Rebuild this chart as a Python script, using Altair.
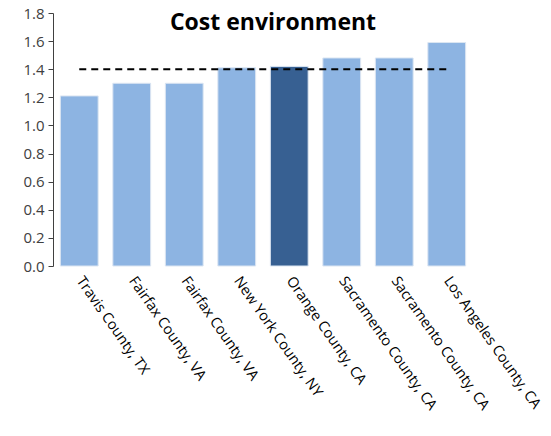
import altair as alt
import pandas as pd

counties = ["Travis County, TX", "Fairfax County, VA", "Fairfax County, VA ", "New York County, NY",
            "Orange County, CA", "Sacramento County, CA", "Sacramento County, CA ", "Los Angeles County, CA"]
values = [1.21, 1.30, 1.30, 1.41, 1.42, 1.48, 1.48, 1.59]
highlight = [False, False, False, False, True, False, False, False]
benchmark = 1.4
y_ticks = [0, 0.2, 0.4, 0.6, 0.8, 1.0, 1.2, 1.4, 1.6, 1.8]

df = pd.DataFrame({"county": counties, "value": values, "hl": highlight})
ref = pd.DataFrame({"county": counties, "value": [benchmark] * len(counties)})

FONT = "Open Sans"

x_axis = alt.Axis(labelAngle=55, labelAlign="left", labelBaseline="middle",
                  labelFontSize=14.5, labelColor="#000000", labelFont=FONT,
                  ticks=False, domain=False, labelPadding=12,
                  labelExpr="trim(datum.label)", labelLimit=300)
x_scale = alt.Scale(paddingInner=0.28, paddingOuter=0.14)
y_axis = alt.Axis(values=y_ticks, format=".1f", grid=False, labelFontSize=15,
                  labelColor="#404040", labelOverlap=False,
                  labelFont=FONT, tickColor="#404040", domainColor="#404040",
                  tickSize=5, labelPadding=4)
y_scale = alt.Scale(domain=[0, 1.8], nice=False)

bars = alt.Chart(df).mark_bar(stroke="#dce6f2", strokeWidth=1).encode(
    x=alt.X("county:N", sort=counties, title=None, scale=x_scale, axis=x_axis),
    y=alt.Y("value:Q", title=None, scale=y_scale, axis=y_axis),
    color=alt.Color("hl:N", scale=alt.Scale(domain=[False, True], range=["#8DB4E2", "#376092"]),
                    legend=None),
)

line = alt.Chart(ref).mark_line(color="#000000", strokeWidth=2, strokeDash=[7, 5]).encode(
    x=alt.X("county:N", sort=counties, title=None, scale=x_scale, axis=x_axis),
    y=alt.Y("value:Q", title=None, scale=y_scale, axis=y_axis),
)

chart = alt.layer(bars, line).properties(
    width=420, height=253,
    background="white",
    title=alt.TitleParams("Cost environment", font=FONT, fontSize=23, fontWeight="bold",
                          color="#000000", offset=-29, anchor="middle", dx=10),
    autosize=alt.AutoSizeParams(type="none"),
    padding={"left": 53, "top": 13, "right": 78, "bottom": 170},
).configure_view(strokeWidth=0, stroke=None)

chart.save("out.html", embed_options={"renderer": "svg", "actions": False})
